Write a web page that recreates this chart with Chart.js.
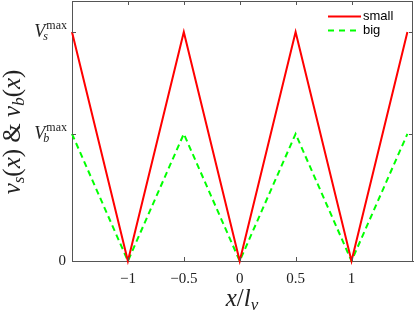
<!DOCTYPE html>
<html>
<head>
<meta charset="utf-8">
<script src="https://cdn.jsdelivr.net/npm/chart.js@4.4.1/dist/chart.umd.min.js"></script>
<style>
  html, body { margin: 0; padding: 0; background: #fff; }
  #wrap { width: 415px; height: 316px; position: relative; }
</style>
</head>
<body>
<div id="wrap"><canvas id="chart" width="415" height="316"></canvas></div>
<script>
// DATA
const xPos = [-1.5, -1, -0.5, 0, 0.5, 1, 1.5];
const vSmall = [1, 0, 1, 0, 1, 0, 1];
const vBig = [0.555, 0, 0.555, 0, 0.555, 0, 0.555];
const xTicks = [-1, -0.5, 0, 0.5, 1];
const yTicks = [0, 0.555, 1];
const seriesNames = ["small", "big"];

const SERIF = "'Liberation Serif', 'DejaVu Serif', serif";
const SANS = "'Liberation Sans', Arial, sans-serif";
const AXIS = "#555";

// draw a run of text pieces, each with its own font and baseline shift
function richWidth(ctx, parts) {
  let w = 0;
  parts.forEach((p) => {
    ctx.font = p.font;
    w += ctx.measureText(p.t).width;
  });
  return w;
}
function drawRich(ctx, parts, x, y) {
  let cx = x;
  parts.forEach((p) => {
    ctx.font = p.font;
    ctx.fillText(p.t, cx, y + (p.dy || 0));
    cx += ctx.measureText(p.t).width;
  });
}

function vmaxLabel(ctx, sub, xRight, yc) {
  const fV = "italic 18px " + SERIF;
  const fSub = "italic 12px " + SERIF;
  const fSup = "12px " + SERIF;
  ctx.font = fV;
  const wV = ctx.measureText("V").width;
  ctx.font = fSub;
  const wS = ctx.measureText(sub).width;
  ctx.font = fSup;
  const wM = ctx.measureText("max").width;
  const x0 = xRight - wV - Math.max(wS, wM);
  ctx.textAlign = "left";
  ctx.textBaseline = "alphabetic";
  ctx.font = fV;
  ctx.fillText("V", x0, yc + 5);
  ctx.font = fSub;
  ctx.fillText(sub, x0 + wV - 2, yc + 8);
  ctx.font = fSup;
  ctx.fillText("max", x0 + wV + 1, yc - 3);
}

const decorations = {
  id: "decorations",
  afterDraw(chart) {
    const ctx = chart.ctx;
    const xs = chart.scales.x;
    const ys = chart.scales.y;
    const a = chart.chartArea;
    ctx.save();
    ctx.fillStyle = "#222";

    // inward ticks on all four sides
    ctx.strokeStyle = AXIS;
    ctx.lineWidth = 1;
    ctx.beginPath();
    xTicks.forEach((v) => {
      const px = Math.round(xs.getPixelForValue(v)) + 0.5;
      ctx.moveTo(px, a.bottom); ctx.lineTo(px, a.bottom - 4);
      ctx.moveTo(px, a.top); ctx.lineTo(px, a.top + 4);
    });
    yTicks.forEach((v) => {
      const py = Math.round(ys.getPixelForValue(v)) + 0.5;
      ctx.moveTo(a.left, py); ctx.lineTo(a.left + 4, py);
      ctx.moveTo(a.right, py); ctx.lineTo(a.right - 4, py);
    });
    ctx.stroke();

    // x tick labels
    ctx.font = "15px " + SERIF;
    ctx.textAlign = "center";
    ctx.textBaseline = "middle";
    xTicks.forEach((v) => {
      const s = v < 0 ? "\u2212" + Math.abs(v) : String(v);
      ctx.fillText(s, xs.getPixelForValue(v), 279);
    });

    // y tick labels
    ctx.textAlign = "right";
    ctx.fillText("0", 66, ys.getPixelForValue(0));
    vmaxLabel(ctx, "b", 66, ys.getPixelForValue(yTicks[1]));
    vmaxLabel(ctx, "s", 66, ys.getPixelForValue(yTicks[2]));

    // x title: x/l_v
    const big = 25;
    const xt = [
      { t: "x", font: "italic " + big + "px " + SERIF },
      { t: "/", font: big + "px " + SERIF },
      { t: "l", font: "italic " + big + "px " + SERIF },
      { t: "v", font: "italic 17px " + SERIF, dy: 4 },
    ];
    ctx.textAlign = "left";
    ctx.textBaseline = "alphabetic";
    const wx = richWidth(ctx, xt);
    drawRich(ctx, xt, 242 - wx / 2, 306);

    // y title: v_s(x) & v_b(x)
    const yt = [
      { t: "v", font: "italic " + big + "px " + SERIF },
      { t: "s", font: "italic 17px " + SERIF, dy: 4 },
      { t: "(", font: big + "px " + SERIF },
      { t: "x", font: "italic " + big + "px " + SERIF },
      { t: ") & ", font: big + "px " + SERIF },
      { t: "v", font: "italic " + big + "px " + SERIF },
      { t: "b", font: "italic 17px " + SERIF, dy: 4 },
      { t: "(", font: big + "px " + SERIF },
      { t: "x", font: "italic " + big + "px " + SERIF },
      { t: ")", font: big + "px " + SERIF },
    ];
    const wy = richWidth(ctx, yt);
    ctx.translate(20, 132);
    ctx.rotate(-Math.PI / 2);
    drawRich(ctx, yt, -wy / 2, 0);
    ctx.restore();

    // legend
    ctx.save();
    const items = [
      { label: seriesNames[0], color: "#ff0000", dash: [], y: 16.5 },
      { label: seriesNames[1], color: "#00ff00", dash: [6, 5], y: 30.5 },
    ];
    items.forEach((it) => {
      ctx.strokeStyle = it.color;
      ctx.lineWidth = 2;
      ctx.setLineDash(it.dash);
      ctx.beginPath();
      ctx.moveTo(328, it.y);
      ctx.lineTo(361, it.y);
      ctx.stroke();
      ctx.setLineDash([]);
      ctx.fillStyle = "#000";
      ctx.font = "13px " + SANS;
      ctx.textAlign = "left";
      ctx.textBaseline = "middle";
      ctx.fillText(it.label, 363, it.y);
    });
    ctx.restore();
  },
};

const toPoints = (ys) => xPos.map((x, i) => ({ x: x, y: ys[i] }));

new Chart(document.getElementById("chart"), {
  type: "line",
  data: {
    datasets: [
      {
        label: seriesNames[0],
        data: toPoints(vSmall),
        borderColor: "#ff0000",
        borderWidth: 2,
        pointRadius: 0,
        tension: 0,
        clip: false,
      },
      {
        label: seriesNames[1],
        data: toPoints(vBig),
        borderColor: "#00ff00",
        borderWidth: 2,
        borderDash: [6, 4],
        pointRadius: 0,
        tension: 0,
        clip: false,
      },
    ],
  },
  options: {
    responsive: false,
    animation: false,
    layout: { padding: { left: 72, right: 2, top: 1, bottom: 55 } },
    plugins: { legend: { display: false }, tooltip: { enabled: false } },
    scales: {
      x: {
        type: "linear",
        min: -1.5,
        max: 1.55,
        ticks: { display: false },
        grid: { display: false, drawTicks: false },
        border: { display: true, color: AXIS, width: 1 },
      },
      y: {
        min: 0,
        max: 1.135,
        ticks: { display: false },
        grid: { display: false, drawTicks: false },
        border: { display: true, color: AXIS, width: 1 },
      },
    },
  },
  plugins: [
    decorations,
    {
      id: "box",
      afterDraw(chart) {
        const a = chart.chartArea;
        const ctx = chart.ctx;
        ctx.save();
        ctx.strokeStyle = AXIS;
        ctx.lineWidth = 1;
        ctx.beginPath();
        ctx.moveTo(a.left, a.top + 0.5);
        ctx.lineTo(a.right, a.top + 0.5);
        ctx.moveTo(a.right - 0.5, a.top);
        ctx.lineTo(a.right - 0.5, a.bottom);
        ctx.stroke();
        ctx.restore();
      },
    },
  ],
});
</script>
</body>
</html>
